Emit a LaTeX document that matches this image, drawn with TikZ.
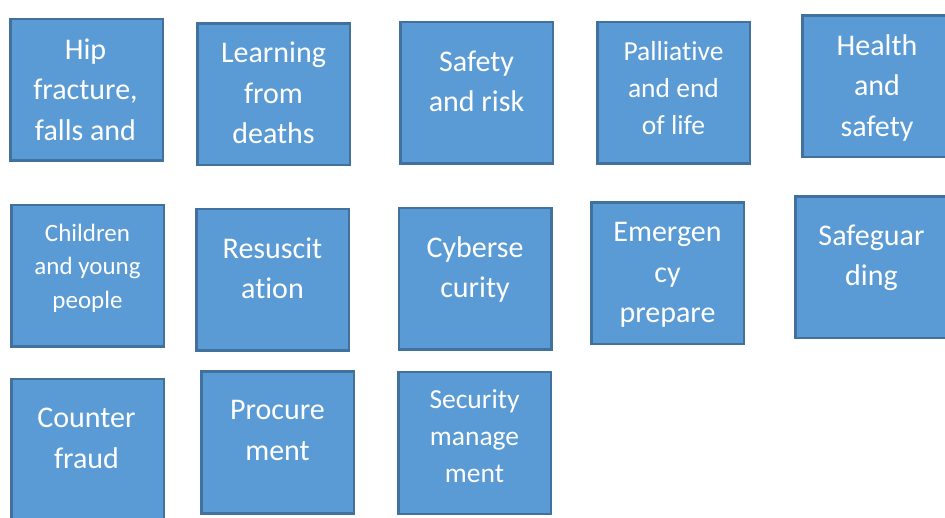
\documentclass[tikz,border=0pt]{standalone}
\usepackage{fontspec}
\setmainfont{Carlito}[Ligatures=NoCommon]
\definecolor{tilefill}{HTML}{5B9BD5}
\definecolor{tileedge}{HTML}{41719C}
\tikzset{
  tile/.style={draw=tileedge, fill=tilefill, line width=2.5pt,
    minimum width=152.5pt, minimum height=141.5pt, inner sep=0pt},
  caption/.style={anchor=north, text=white, align=center, inner sep=0pt,
    font=\fontsize{30}{40.5}\selectfont},
  captionmid/.style={caption, font=\fontsize{27.5}{37}\selectfont},
  captionsmall/.style={caption, font=\fontsize{25}{33.5}\selectfont},
}
% first-line strut: text node tops sit 25pt above the first baseline
\newcommand{\topstrut}{\rule{0pt}{25pt}}
\begin{document}
\begin{tikzpicture}[x=1pt, y=-1pt]
  \useasboundingbox (0,0) rectangle (945,518);
  \clip (0,0) rectangle (945,518);
  \fill[white] (0,0) rectangle (945,518);

  % row 1
  \node[tile] (hip)   at (86.5,90)   {};
  \node[tile] (learn) at (273.5,94.5) {};
  \node[tile] (safe)  at (476.5,93)  {};
  \node[tile] (pall)  at (673.5,93)  {};
  \node[tile] (hs)    at (878.5,86.5) {};
  % row 2
  \node[tile] (child) at (87.5,276)  {};
  \node[tile] (resus) at (272.5,280) {};
  \node[tile] (cyber) at (475,279)   {};
  \node[tile] (emerg) at (667.5,273.5) {};
  \node[tile] (guard) at (871.5,267.5) {};
  % row 3
  \node[tile] (fraud) at (87.5,450)  {};
  \node[tile] (proc)  at (277.5,442.5) {};
  \node[tile] (secm)  at (474.5,443) {};

  % captions (anchored 25pt above the first baseline)
  \node[caption] (hipT)   at (85.5,59.3-25)  {\topstrut Hip\\fracture,\\falls and};
  \node[caption] (learnT) at (273.5,62.7-25) {\topstrut Learning\\from\\deaths};
  \node[caption] (safeT)  at (476.5,71-25)   {\topstrut Safety\\and risk};
  \node[captionmid] (pallT) at (673.5,60-25) {\topstrut Palliative\\and end\\of life};
  \node[caption] (hsT)    at (877,55-25)     {\topstrut Health\\and\\safety};

  \node[captionsmall] (childT) at (87.5,241-25) {\topstrut Children\\and young\\people};
  \node[caption] (resusT) at (272.5,258.3-25) {\topstrut Resuscit\\ation};
  \node[caption] (cyberT) at (475,257-25)     {\topstrut Cyberse\\curity};
  \node[caption] (emergT) at (667.5,241.7-25) {\topstrut Emergen\\cy\\prepare};
  \node[caption] (guardT) at (871.5,245-25)   {\topstrut Safeguar\\ding};

  \node[caption] (fraudT) at (86.5,427.7-25)  {\topstrut Counter\\fraud};
  \node[caption] (procT)  at (277.5,419.3-25) {\topstrut Procure\\ment};
  \node[captionmid] (secmT) at (474.5,408.3-25) {\topstrut Security\\manage\\ment};
\end{tikzpicture}
\end{document}
